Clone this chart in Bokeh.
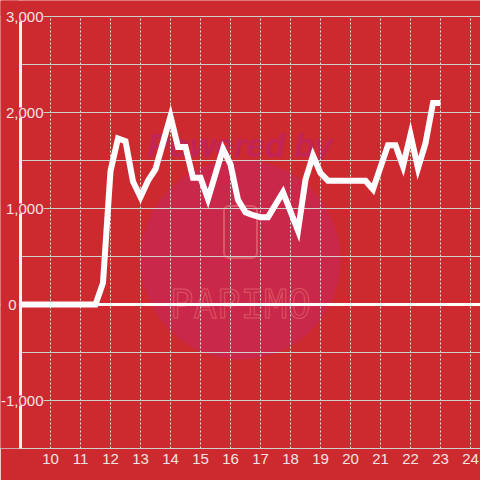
from bokeh.plotting import figure
from bokeh.models import (ColumnDataSource, LabelSet, Span, FixedTicker, Range1d,
                          SingleIntervalTicker, BoxAnnotation)
from bokeh.core.properties import value
from bokeh.embed import file_html
from bokeh.resources import INLINE

# ---- data ----
hours = [9.0, 11.5, 11.75, 12.0, 12.25, 12.5, 12.75, 13.0, 13.25, 13.5, 14.0,
         14.25, 14.5, 14.75, 15.0, 15.25, 15.75, 16.0, 16.25, 16.5, 16.75,
         17.0, 17.25, 17.75, 18.25, 18.5, 18.75, 19.0, 19.25, 20.5, 20.75,
         21.25, 21.5, 21.75, 22.0, 22.25, 22.5, 22.75, 23.0]
power = [0, 0, 225, 1390, 1730, 1700, 1280, 1120, 1290, 1410, 1960,
         1640, 1640, 1320, 1320, 1100, 1620, 1460, 1090, 960, 930,
         910, 910, 1170, 770, 1300, 1550, 1370, 1290, 1290, 1200,
         1660, 1660, 1440, 1770, 1420, 1680, 2100, 2100]

x_ticks = [10, 11, 12, 13, 14, 15, 16, 17, 18, 19, 20, 21, 22, 23, 24]
y_ticks = [3000, 2000, 1000, 0, -1000]
y_labels = ["3,000", "2,000", "1,000", "0", "-1,000"]
x_min, y_max = 9.0, 3000

# ---- style ----
BG = "#cc2a2f"
LBL = "#f3e3e3"
GRID = "#cfcfcf"
WM_CIRCLE = "#c9284a"
WM_LIGHT = "#dc5564"
FONT = "Liberation Sans"
W, H = 480, 480
FL, FT, FB, FR = 0, 0, 32, 0
PX_PER_H = 30.0
PX_PER_UNIT = 0.096
AXIS_PX = 20      # canvas x of the value axis
TOP_PX = 16       # canvas y of the 3,000 line
x_start = x_min - (AXIS_PX - FL) / PX_PER_H
x_end = x_start + (W - FL - FR) / PX_PER_H
y_end = y_max + (TOP_PX - FT) / PX_PER_UNIT
y_start = y_end - (H - FT - FB) / PX_PER_UNIT


def px_x(cx):
    return x_start + (cx - FL) / PX_PER_H


def px_y(cy):
    return y_end - (cy - FT) / PX_PER_UNIT


p = figure(width=W, height=H, output_backend="svg", toolbar_location=None,
           x_range=Range1d(x_start, x_end), y_range=Range1d(y_start, y_end),
           y_axis_location=None,
           min_border_left=FL, min_border_top=FT, min_border_bottom=FB, min_border_right=FR,
           background_fill_color=BG, border_fill_color=BG)
p.outline_line_color = None

# watermark
p.circle(x=[px_x(240)], y=[px_y(259)], radius=100, radius_units="screen",
         fill_color=WM_CIRCLE, line_color=None, level="image")
p.text(x=[px_x(147)], y=[px_y(145)], text=["Powered by"], text_font=value(FONT),
       text_font_style="bold italic", text_font_size="33px", text_color="#c22457",
       text_baseline="alphabetic", level="image")
p.rect(x=[px_x(240)], y=[px_y(231.5)], width=33, height=52, width_units="screen",
       height_units="screen", fill_color=None, line_color=WM_LIGHT, line_width=2,
       border_radius=5, level="image")
p.text(x=[px_x(240)], y=[px_y(304)], text=["PAPIMO"], text_font=value("DejaVu Sans Mono"),
       text_font_size="39px", text_color=WM_CIRCLE, text_outline_color=WM_LIGHT,
       text_align="center", text_baseline="alphabetic", level="image")

# grids
p.xgrid.ticker = FixedTicker(ticks=x_ticks)
p.xgrid.grid_line_color = "#e6e6e6"
p.xgrid.grid_line_dash = "2 2"
p.xgrid.grid_line_width = 1
p.ygrid.ticker = SingleIntervalTicker(interval=500)
p.ygrid.grid_line_color = GRID
p.ygrid.grid_line_width = 1

# x axis
p.xaxis.ticker = FixedTicker(ticks=x_ticks)
p.xaxis.axis_line_color = GRID
p.xaxis.major_tick_line_color = None
p.xaxis.minor_tick_line_color = None
p.xaxis.major_tick_out = 0
p.xaxis.major_tick_in = 0
p.xaxis.major_label_standoff = 5
p.xaxis.major_label_text_font = FONT
p.xaxis.major_label_text_font_size = "15px"
p.xaxis.major_label_text_color = LBL

# zero line and value-axis line
p.add_layout(Span(location=0, dimension="width", line_color="white", line_width=3))
p.add_layout(Span(location=x_min, dimension="height", line_color="#f4f4f4", line_width=3))

# keep the strips left of the axis and above the top line plain
p.add_layout(BoxAnnotation(right=x_min - 1.6 / PX_PER_H, fill_color=BG, fill_alpha=1,
                           line_color=None))
p.add_layout(BoxAnnotation(bottom=y_max + 0.6 / PX_PER_UNIT, fill_color=BG, fill_alpha=1,
                           line_color=None))

# data line
p.line(hours, power, line_color="white", line_width=6, line_join="miter", line_cap="butt")

# y labels covering the axis line
xoff = [-4 if t == "0" else 23 for t in y_labels]
src = ColumnDataSource(dict(y=y_ticks, text=y_labels, xoff=xoff))
p.add_layout(LabelSet(x=x_min, y="y", text="text", x_offset="xoff", source=src,
                      text_align="right", text_baseline="middle",
                      text_font=value(FONT), text_font_size="15px", text_color=LBL,
                      background_fill_color=BG))

open("out.html", "w").write(file_html(p, INLINE))
